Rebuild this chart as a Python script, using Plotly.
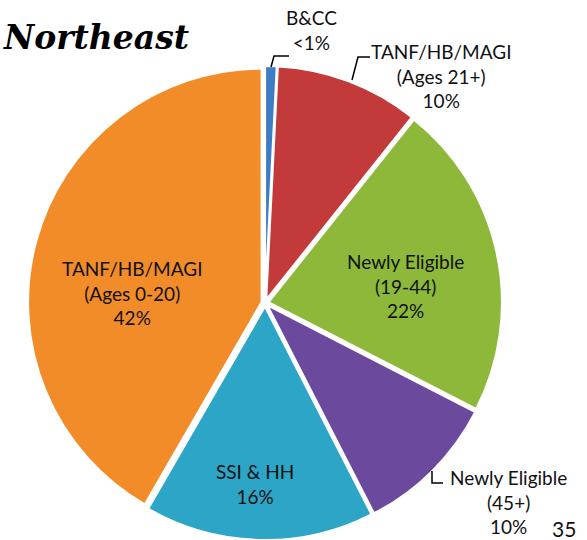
import plotly.graph_objects as go

# ---- data ----
categories = ["B&CC", "TANF/HB/MAGI (Ages 21+)", "Newly Eligible (19-44)",
              "Newly Eligible (45+)", "SSI & HH", "TANF/HB/MAGI (Ages 0-20)"]
label_lines = [["B&CC"], ["TANF/HB/MAGI", "(Ages 21+)"], ["Newly Eligible", "(19-44)"],
               ["Newly Eligible", "(45+)"], ["SSI & HH"], ["TANF/HB/MAGI", "(Ages 0-20)"]]
shares = [0.8, 10, 22, 10, 16, 42]
share_labels = ["<1%", "10%", "22%", "10%", "16%", "42%"]
title_text = "Northeast"
page_number = "35"

colors = ["#3E7CC6", "#C23B3A", "#8DB83A", "#6B4A9E", "#2DA5C6", "#F28C28"]

W, H = 587, 540
def px(x):
    return x / W
def py(y):
    return 1 - y / H

fig = go.Figure(go.Pie(
    labels=categories,
    values=shares,
    sort=False,
    direction="clockwise",
    rotation=0,
    marker=dict(colors=colors, line=dict(color="white", width=2)),
    pull=[0.015] * len(shares),
    textinfo="none",
    hoverinfo="label+percent",
    showlegend=False,
    domain=dict(x=[px(28), px(502)], y=[0, 474 / H]),
))

# label centres in pixels (layout only)
label_pos = [(311, 30), (441, 76), (405, 286), (508, 502), (255, 484), (132, 293)]
font = dict(family="Lato", size=19, color="#111111")
annotations = []
for lines, pct, (x, y) in zip(label_lines, share_labels, label_pos):
    annotations.append(dict(
        x=px(x), y=py(y), xref="paper", yref="paper",
        text="<br>".join(lines + [pct]), showarrow=False,
        xanchor="center", yanchor="middle", align="center", font=font))

annotations.append(dict(x=px(1), y=py(37), xref="paper", yref="paper",
                        text=title_text, showarrow=False, xanchor="left", yanchor="middle",
                        font=dict(family="DejaVu Serif", size=33, color="black",
                                  weight="bold", style="italic")))
annotations.append(dict(x=px(564), y=py(528), xref="paper", yref="paper",
                        text=page_number, showarrow=False, xanchor="center", yanchor="middle",
                        font=dict(family="Lato", size=21, color="#111111")))

def path(points):
    return "M " + " L ".join(f"{px(x)},{py(y)}" for x, y in points)

leaders = [
    [(271, 67), (274, 56), (289, 56)],
    [(352, 80), (358, 57), (370, 57)],
    [(432, 471), (432, 483), (443, 483)],
]
shapes = [dict(type="path", xref="paper", yref="paper", path=path(p),
               line=dict(color="black", width=1.5)) for p in leaders]

fig.update_layout(
    width=W, height=H,
    margin=dict(l=0, r=0, t=0, b=0),
    paper_bgcolor="white", plot_bgcolor="white",
    annotations=annotations, shapes=shapes,
)

fig.write_html("out.html", config={"displayModeBar": False},
               post_script="document.body.style.margin='0';document.body.style.overflow='hidden';")
